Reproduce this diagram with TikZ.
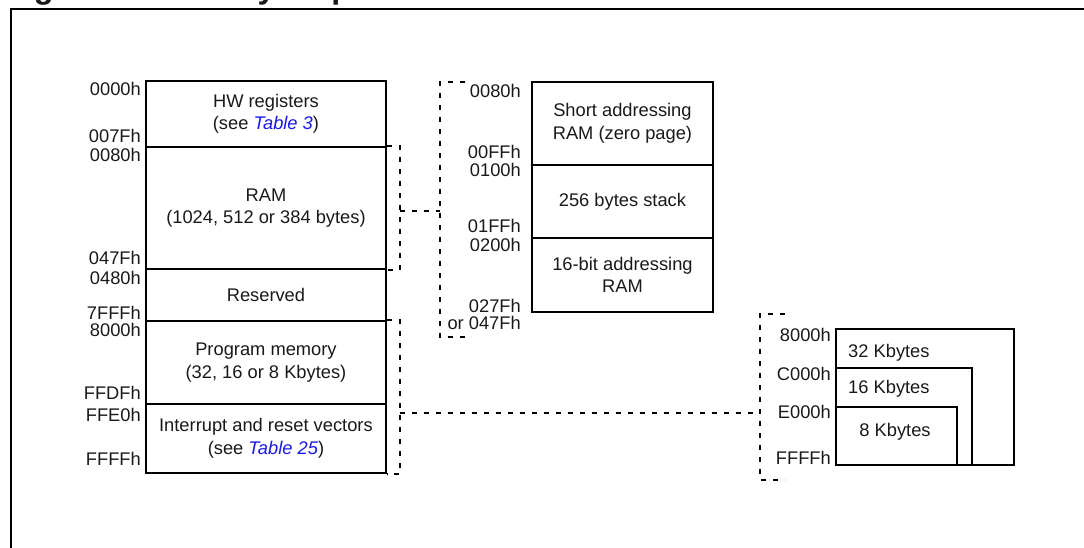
\documentclass[tikz,border=0pt]{standalone}
\usepackage{fontspec}
\setmainfont{Liberation Sans}
\definecolor{linkblue}{RGB}{25,25,235}
\definecolor{ink}{RGB}{25,25,25}
\newcommand{\bodyfont}{\fontsize{18.3}{22.5}\selectfont}
\newcommand{\tref}[1]{\textcolor{linkblue}{\itshape #1}}
\begin{document}
\begin{tikzpicture}[x=1pt,y=-1pt,
  membox/.style={draw=black,line width=1.9pt,inner sep=0pt,align=center,font=\bodyfont,text=ink,anchor=north west},
  addr/.style={inner sep=0pt,font=\bodyfont,text=ink,anchor=base east},
  plain/.style={inner sep=0pt,font=\bodyfont,text=ink},
  dashline/.style={draw=black,line width=1.8pt,dash pattern=on 5pt off 7pt},
  frame/.style={draw=black,line width=2.6pt}]
\useasboundingbox (0,0) rectangle (1084,548);
\clip (0,0) rectangle (1084,548);
% title (cut by the top edge, as in the reference)
\node[anchor=base west,inner sep=0pt,font=\fontsize{32.3}{36}\selectfont\bfseries,text=ink] (title) at (5,-1.5) {Figure 4. Memory map};
% outer frame
\coordinate (fbl) at (11,570);
\coordinate (ftl) at (11,9);
\coordinate (ftr) at (1100,9);
\draw[frame] (fbl) -- (ftl) -- (ftr);
% left memory map
\node[membox,minimum width=240,minimum height=66] (hw) at (145,80) {HW registers\\(see \tref{Table 3})};
\node[membox,minimum width=240,minimum height=122] (ram) at (145,146) {RAM\\(1024, 512 or 384 bytes)};
\node[membox,minimum width=240,minimum height=52] (res) at (145,268) {Reserved};
\node[membox,minimum width=240,minimum height=83] (pm) at (145,320) {Program memory\\(32, 16 or 8 Kbytes)};
\node[membox,minimum width=240,minimum height=69] (iv) at (145,403) {Interrupt and reset vectors\\(see \tref{Table 25})};
\node[addr] (a1) at (141,96) {0000h};
\node[addr] (a2) at (141,143) {007Fh};
\node[addr] (a3) at (141,161.5) {0080h};
\node[addr] (a4) at (141,264) {047Fh};
\node[addr] (a5) at (141,284) {0480h};
\node[addr] (a6) at (141,319) {7FFFh};
\node[addr] (a7) at (141,336) {8000h};
\node[addr] (a8) at (141,399) {FFDFh};
\node[addr] (a9) at (141,421.5) {FFE0h};
\node[addr] (a10) at (141,465.5) {FFFFh};
% RAM detail
\node[membox,minimum width=181,minimum height=83] (sa) at (531,81) {Short addressing\\RAM (zero page)};
\node[membox,minimum width=181,minimum height=73] (st) at (531,164) {256 bytes stack};
\node[membox,minimum width=181,minimum height=74] (ba) at (531,237) {16-bit addressing\\RAM};
\node[addr] (m1) at (521,98) {0080h};
\node[addr] (m2) at (521,159) {00FFh};
\node[addr] (m3) at (521,177) {0100h};
\node[addr] (m4) at (521,233) {01FFh};
\node[addr] (m5) at (521,251.5) {0200h};
\node[addr] (m6) at (521,312) {027Fh};
\node[addr] (m7) at (521,329) {or 047Fh};
% program memory detail
\node[draw=black,line width=1.9pt,inner sep=0pt,anchor=north west,minimum width=178,minimum height=136] (k32) at (835,328) {};
\node[draw=black,line width=1.9pt,inner sep=0pt,anchor=north west,minimum width=136,minimum height=97] (k16) at (835,367) {};
\node[draw=black,line width=1.9pt,inner sep=0pt,anchor=north west,minimum width=121,minimum height=58] (k8) at (835,406) {};
\node[plain,anchor=base west] (t32) at (848,357) {32 Kbytes};
\node[plain,anchor=base west] (t16) at (848,393) {16 Kbytes};
\node[plain,anchor=base] (t8) at (895,436) {8 Kbytes};
\node[addr] (r1) at (831,341.5) {8000h};
\node[addr] (r2) at (831,380) {C000h};
\node[addr] (r3) at (831,418.3) {E000h};
\node[addr] (r4) at (831,464) {FFFFh};
% dashed brackets and links
\coordinate (b1m) at (400,211);
\coordinate (b2m) at (440,211);
\coordinate (b2t) at (465,82);
\coordinate (b2b) at (465,337);
\coordinate (b3m) at (400,413);
\coordinate (b4m) at (760,413);
\coordinate (b4t) at (785,314);
\coordinate (b4b) at (785,480);
\draw[dashline] (ram.north east) -| (b1m) |- (ram.south east);
\draw[dashline] (b1m) -- (b2m);
\draw[dashline] (b2t) -| (b2m) |- (b2b);
\draw[dashline] (pm.north east) -| (b3m) |- (iv.south east);
\draw[dashline] (b3m) -- (b4m);
\draw[dashline] (b4t) -| (b4m) |- (b4b);
\end{tikzpicture}
\end{document}
